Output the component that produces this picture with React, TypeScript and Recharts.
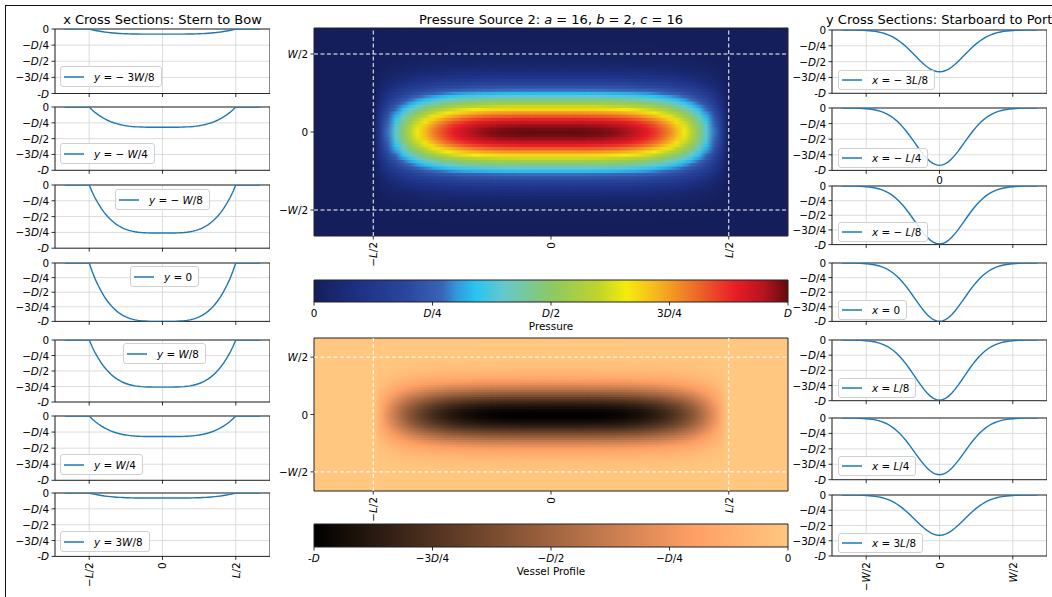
import React from 'react';
import {
  LineChart, Line, XAxis, YAxis, CartesianGrid, ReferenceArea, ReferenceLine,
  ScatterChart, Scatter, ComposedChart,
} from 'recharts';

const FONT = '"DejaVu Sans", Verdana, sans-serif';
const FS = 10.4;

// sample positions (units of L for x, W for y): -2/3 .. 2/3 in steps of 1/48
const gridPos: number[] = Array.from({ length: 65 }, (_, i) => (i - 32) / 48);

// pressure profile along x (stern to bow), read from the y = 0 cross section
const xProfile = [
  0, 0, 0, 0, 0, 0, 0, 0, 0,
  0.15, 0.28, 0.39, 0.49, 0.58, 0.655, 0.72, 0.777, 0.824, 0.864, 0.897, 0.923, 0.944, 0.961, 0.974, 0.983, 0.99, 0.994, 0.997, 0.999, 1, 1, 1,
  1,
  1, 1, 1, 0.999, 0.997, 0.994, 0.99, 0.983, 0.974, 0.961, 0.944, 0.923, 0.897, 0.864, 0.824, 0.777, 0.72, 0.655, 0.58, 0.49, 0.39, 0.28, 0.15,
  0, 0, 0, 0, 0, 0, 0, 0, 0,
];

// pressure profile along y (starboard to port), read from the x = 0 cross section
const yProfile = [
  0, 0, 0.001, 0.001, 0.002, 0.003, 0.005, 0.008, 0.012, 0.018, 0.025, 0.034, 0.047, 0.063, 0.084, 0.11, 0.141,
  0.179, 0.224, 0.275, 0.333, 0.397, 0.466, 0.539, 0.613, 0.688, 0.76, 0.826, 0.885, 0.934, 0.97, 0.992,
  1,
  0.992, 0.97, 0.934, 0.885, 0.826, 0.76, 0.688, 0.613, 0.539, 0.466, 0.397, 0.333, 0.275, 0.224, 0.179,
  0.141, 0.11, 0.084, 0.063, 0.047, 0.034, 0.025, 0.018, 0.012, 0.008, 0.005, 0.003, 0.002, 0.001, 0.001, 0, 0,
];

const xSectionLabels = ['y = − 3W/8', 'y = − W/4', 'y = − W/8', 'y = 0', 'y = W/8', 'y = W/4', 'y = 3W/8'];
const xSectionDepth = [0.08, 0.32, 0.76, 1, 0.76, 0.32, 0.08];
const ySectionLabels = ['x = − 3L/8', 'x = − L/4', 'x = − L/8', 'x = 0', 'x = L/8', 'x = L/4', 'x = 3L/8'];
const ySectionDepth = [0.66, 0.92, 0.99, 1, 0.99, 0.92, 0.66];

const depthTicks = [-1, -0.75, -0.5, -0.25, 0];
const depthTickLabels = ['-D', '−3D/4', '−D/2', '−D/4', '0'];
const halfTicks = [-0.5, 0, 0.5];
const lengthTickLabels = ['−L/2', '0', 'L/2'];
const widthTickLabels = ['−W/2', '0', 'W/2'];
const pressureTicks = [0, 0.25, 0.5, 0.75, 1];
const pressureTickLabels = ['0', 'D/4', 'D/2', '3D/4', 'D'];
const profileTickLabels = ['-D', '−3D/4', '−D/2', '−D/4', '0'];

// layout
const leftPlotTops = [28.5, 106.7, 184.5, 263.3, 340, 415.7, 493.3];
const leftPlotHeights = [64.5, 63.3, 63.2, 58.4, 62, 64.3, 63.4];
const rightPlotTops = [30, 108.3, 185.7, 263.3, 340, 418.3, 495];
const rightPlotHeights = [63.3, 62.4, 58.6, 58.4, 60.7, 61.7, 61];
const leftLegendPos = [[60, 66], [60, 143], [115, 189], [130, 266], [123, 343], [60, 454], [60, 531]];
const rightLegendPos = [[838, 70], [838, 148], [838, 222], [838, 300], [838, 378], [838, 456], [838, 533]];

// colormaps
const jetStops: number[][] = [
  [0.0, 20, 30, 90],
  [0.1, 30, 50, 135],
  [0.2, 42, 72, 158],
  [0.27, 58, 100, 182],
  [0.3, 50, 150, 220],
  [0.34, 40, 196, 240],
  [0.4, 100, 200, 205],
  [0.5, 140, 200, 100],
  [0.6, 192, 212, 42],
  [0.66, 245, 235, 12],
  [0.72, 245, 185, 30],
  [0.8, 238, 112, 40],
  [0.89, 232, 28, 38],
  [0.95, 180, 20, 30],
  [1.0, 100, 10, 15],
];
const rgb = (r: number, g: number, b: number) => `rgb(${Math.round(r)},${Math.round(g)},${Math.round(b)})`;
function jet(t: number) {
  const v = Math.max(0, Math.min(1, t));
  for (let k = 1; k < jetStops.length; k++) {
    const a = jetStops[k - 1], b = jetStops[k];
    if (v <= b[0]) {
      const f = (v - a[0]) / (b[0] - a[0]);
      return rgb(a[1] + (b[1] - a[1]) * f, a[2] + (b[2] - a[2]) * f, a[3] + (b[3] - a[3]) * f);
    }
  }
  const l = jetStops[jetStops.length - 1];
  return rgb(l[1], l[2], l[3]);
}
function copper(t: number) {
  const v = Math.max(0, Math.min(1, t));
  return rgb(255 * Math.min(1, 1.25 * v), 255 * 0.7812 * v, 255 * 0.4975 * v);
}

const isLetter = (p: string) => /^[A-Za-z]$/.test(p);
const splitMath = (s: string) => s.split(/([A-Za-z])/).filter((p) => p !== '');
const svgMath = (s: string) =>
  splitMath(s).map((p, k) => (isLetter(p) ? <tspan key={k} fontStyle="italic">{p}</tspan> : <tspan key={k}>{p}</tspan>));
const htmlMath = (s: string) =>
  splitMath(s).map((p, k) => (isLetter(p) ? <i key={k}>{p}</i> : <span key={k}>{p}</span>));

const findIdx = (ticks: number[], v: number) => ticks.findIndex((t) => Math.abs(t - v) < 1e-6);

const makeYTick = (labels: string[], ticks: number[]) => (props: any) => {
  const { x, y, payload } = props;
  const idx = findIdx(ticks, payload.value);
  return (
    <text x={x} y={y} textAnchor="end" dominantBaseline="central" fontSize={FS} fontFamily={FONT} fill="#000">
      {svgMath(labels[idx] ?? '')}
    </text>
  );
};
const makeRotTick = (labels: string[], ticks: number[]) => (props: any) => {
  const { x, y, payload } = props;
  const idx = findIdx(ticks, payload.value);
  return (
    <text x={x} y={y} transform={`rotate(-90 ${x} ${y})`} textAnchor="end" dominantBaseline="central" fontSize={FS} fontFamily={FONT} fill="#000">
      {svgMath(labels[idx] ?? '')}
    </text>
  );
};
const makeFlatTick = (labels: string[], ticks: number[]) => (props: any) => {
  const { x, y, payload } = props;
  const idx = findIdx(ticks, payload.value);
  return (
    <text x={x} y={y + 5} textAnchor="middle" dominantBaseline="central" fontSize={FS} fontFamily={FONT} fill="#000">
      {svgMath(labels[idx] ?? '')}
    </text>
  );
};
const midZeroTick = (props: any) => {
  const { x, y, payload } = props;
  if (Math.abs(payload.value) > 1e-6) return <g />;
  return (
    <text x={x} y={y + 4} textAnchor="middle" dominantBaseline="central" fontSize={FS} fontFamily={FONT} fill="#000">0</text>
  );
};
const emptyTick = () => <g />;

const XD = 0.7333;

function CrossSection(props: {
  chartLeft: number; plotTop: number; plotH: number; profile: number[]; depth: number;
  last: boolean; tickLabels: string[]; midZero?: boolean;
}) {
  const { chartLeft, plotTop, plotH, profile, depth, last, tickLabels, midZero } = props;
  const data = gridPos.map((p, i) => ({ p, v: -profile[i] * depth }));
  const mTop = 8;
  const xH = last ? 40 : midZero ? 16 : 6;
  const tick = last ? makeRotTick(tickLabels, halfTicks) : midZero ? midZeroTick : emptyTick;
  return (
    <div style={{ position: 'absolute', left: chartLeft, top: plotTop - mTop }}>
      <LineChart width={270} height={mTop + plotH + xH} data={data} margin={{ top: mTop, right: 0, bottom: 0, left: 0 }}>
        <CartesianGrid stroke="#d4d4d4" strokeWidth={0.8} />
        <XAxis type="number" dataKey="p" domain={[-XD, XD]} ticks={halfTicks} interval={0} height={xH}
          tickSize={3.5} tickMargin={2.5} axisLine={false} tickLine={{ stroke: '#000', strokeWidth: 0.8 }} tick={tick} allowDataOverflow />
        <YAxis type="number" domain={[-1, 0]} ticks={depthTicks} interval={0} width={55}
          tickSize={3.5} tickMargin={2.5} axisLine={false} tickLine={{ stroke: '#000', strokeWidth: 0.8 }}
          tick={makeYTick(depthTickLabels, depthTicks)} allowDataOverflow />
        <ReferenceArea x1={-XD} x2={XD} y1={-1} y2={0} fill="none" fillOpacity={0} stroke="#262626" strokeWidth={1} />
        <Line dataKey="v" type="linear" stroke="#1f77b4" strokeWidth={1.4} dot={false} isAnimationActive={false} />
      </LineChart>
    </div>
  );
}

function LegendBox({ left, top, h, label }: { left: number; top: number; h: number; label: string }) {
  return (
    <div style={{
      position: 'absolute', left, top, height: h, boxSizing: 'border-box', border: '1px solid #d0d0d0',
      borderRadius: 3, background: 'rgba(255,255,255,0.85)', display: 'flex', alignItems: 'center',
      paddingLeft: 3, paddingRight: 6, fontFamily: FONT, fontSize: FS, whiteSpace: 'pre', color: '#000',
    }}>
      <svg width={20} height={6} style={{ marginRight: 10, display: 'block' }}>
        <line x1={0} x2={20} y1={3} y2={3} stroke="#1f77b4" strokeWidth={1.5} />
      </svg>
      <span>{htmlMath(label)}</span>
    </div>
  );
}

const HM_PL = 60;
const HM_PW = 474;
const HM_PT = 28;
const HM_DOMAIN: [number, number] = [-2 / 3, 2 / 3];

function Heatmap({ top, plotH, prefix }: { top: number; plotH: number; prefix: string }) {
  const cells: { x: number; y: number; j: number; v: number }[] = [];
  gridPos.forEach((yv, j) => gridPos.forEach((xv, i) => cells.push({ x: xv, y: yv, j, v: xProfile[i] * yProfile[j] })));
  const cw = HM_PW / 64;
  const ch = plotH / 64;
  const shape = (p: any) => {
    const { cx, cy, payload } = p;
    const x0 = Math.max(HM_PL, cx - cw / 2 - 0.4);
    const x1 = Math.min(HM_PL + HM_PW, cx + cw / 2 + 0.4);
    const y0 = Math.max(HM_PT, cy - ch / 2 - 0.4);
    const y1 = Math.min(HM_PT + plotH, cy + ch / 2 + 0.4);
    return <rect x={x0} y={y0} width={x1 - x0} height={y1 - y0} fill={`url(#${prefix}${payload.j})`} />;
  };
  const dash = { stroke: '#ffffff', strokeWidth: 1, strokeDasharray: '4 2.5' };
  const chartH = HM_PT + plotH + 40;
  return (
    <>
      <div style={{ position: 'absolute', left: 254, top: top - HM_PT }}>
        <ScatterChart width={544} height={chartH} margin={{ top: HM_PT, right: 10, bottom: 0, left: 0 }}>
          <XAxis type="number" dataKey="x" domain={HM_DOMAIN} ticks={halfTicks} interval={0} height={40}
            tickSize={3.5} tickMargin={2.5} axisLine={false} tickLine={{ stroke: '#000', strokeWidth: 0.8 }}
            tick={makeRotTick(lengthTickLabels, halfTicks)} allowDataOverflow />
          <YAxis type="number" dataKey="y" domain={HM_DOMAIN} ticks={halfTicks} interval={0} width={60}
            tickSize={3.5} tickMargin={2.5} axisLine={false} tickLine={{ stroke: '#000', strokeWidth: 0.8 }}
            tick={makeYTick(widthTickLabels, halfTicks)} allowDataOverflow />
          <Scatter data={cells} shape={shape} isAnimationActive={false} />
        </ScatterChart>
      </div>
      <div style={{ position: 'absolute', left: 254, top: top - HM_PT }}>
        <ComposedChart width={544} height={chartH} margin={{ top: HM_PT, right: 10, bottom: 0, left: 0 }}
          data={[{ x: HM_DOMAIN[0], y: HM_DOMAIN[0] }, { x: HM_DOMAIN[1], y: HM_DOMAIN[1] }]}>
          <XAxis type="number" dataKey="x" domain={HM_DOMAIN} ticks={halfTicks} interval={0} height={40}
            axisLine={false} tickLine={false} tick={emptyTick} allowDataOverflow />
          <YAxis type="number" dataKey="y" domain={HM_DOMAIN} ticks={halfTicks} interval={0} width={60}
            axisLine={false} tickLine={false} tick={emptyTick} allowDataOverflow />
          <ReferenceLine x={-0.5} {...dash} />
          <ReferenceLine x={0.5} {...dash} />
          <ReferenceLine y={-0.5} {...dash} />
          <ReferenceLine y={0.5} {...dash} />
          <ReferenceArea x1={HM_DOMAIN[0]} x2={HM_DOMAIN[1]} y1={HM_DOMAIN[0]} y2={HM_DOMAIN[1]} fill="none" fillOpacity={0} stroke="#222" strokeWidth={1} />
        </ComposedChart>
      </div>
    </>
  );
}

function ColorBar({ top, plotH, gradId, domain, ticks, labels }: {
  top: number; plotH: number; gradId: string; domain: [number, number]; ticks: number[]; labels: string[];
}) {
  return (
    <div style={{ position: 'absolute', left: 254, top: top - 5 }}>
      <ComposedChart width={544} height={5 + plotH + 24} margin={{ top: 5, right: 10, bottom: 0, left: 60 }}
        data={[{ x: domain[0], y: 0 }, { x: domain[1], y: 1 }]}>
        <XAxis type="number" dataKey="x" domain={domain} ticks={ticks} interval={0} height={24}
          tickSize={3.5} tickMargin={2.5} axisLine={false} tickLine={{ stroke: '#000', strokeWidth: 0.8 }}
          tick={makeFlatTick(labels, ticks)} allowDataOverflow />
        <YAxis type="number" dataKey="y" domain={[0, 1]} hide />
        <ReferenceArea x1={domain[0]} x2={domain[1]} y1={0} y2={1} fill={`url(#${gradId})`} fillOpacity={1} stroke="#222" strokeWidth={1} />
      </ComposedChart>
    </div>
  );
}

function GradientDefs() {
  return (
    <svg width={0} height={0} style={{ position: 'absolute', left: 0, top: 0 }}>
      <defs>
        {gridPos.map((_, j) => (
          <linearGradient key={`p${j}`} id={`pr${j}`} gradientUnits="userSpaceOnUse" x1={HM_PL} x2={HM_PL + HM_PW} y1={0} y2={0}>
            {gridPos.map((__, i) => (
              <stop key={i} offset={i / 64} stopColor={jet(xProfile[i] * yProfile[j])} />
            ))}
          </linearGradient>
        ))}
        {gridPos.map((_, j) => (
          <linearGradient key={`v${j}`} id={`vr${j}`} gradientUnits="userSpaceOnUse" x1={HM_PL} x2={HM_PL + HM_PW} y1={0} y2={0}>
            {gridPos.map((__, i) => (
              <stop key={i} offset={i / 64} stopColor={copper(1 - xProfile[i] * yProfile[j])} />
            ))}
          </linearGradient>
        ))}
        <linearGradient id="jetbar" x1="0" x2="1" y1="0" y2="0">
          {jetStops.map((s, k) => <stop key={k} offset={s[0]} stopColor={rgb(s[1], s[2], s[3])} />)}
        </linearGradient>
        <linearGradient id="copperbar" x1="0" x2="1" y1="0" y2="0">
          <stop offset={0} stopColor={copper(0)} />
          <stop offset={0.8} stopColor={copper(0.8)} />
          <stop offset={1} stopColor={copper(1)} />
        </linearGradient>
      </defs>
    </svg>
  );
}

export default function App() {
  return (
    <div style={{ position: 'absolute', left: 0, top: 0, width: 1052, height: 597, overflow: 'hidden', background: '#fff', fontFamily: FONT, color: '#000' }}>
      <GradientDefs />
      <div style={{ position: 'absolute', left: 5, top: 5, width: 2000, height: 2000, borderLeft: '1.5px solid #111', borderTop: '1.5px solid #111' }} />

      <div style={{ position: 'absolute', left: 0, width: 325, top: 13, textAlign: 'center', fontSize: 13, lineHeight: '13px', whiteSpace: 'nowrap' }}>
        x Cross Sections: Stern to Bow
      </div>
      <div style={{ position: 'absolute', left: 351, width: 400, top: 13, textAlign: 'center', fontSize: 13, lineHeight: '13px', whiteSpace: 'pre' }}>
        Pressure Source 2: <i>a</i> = 16, <i>b</i> = 2, <i>c</i> = 16
      </div>
      <div style={{ position: 'absolute', left: 826, top: 13, fontSize: 13, lineHeight: '13px', whiteSpace: 'nowrap' }}>
        y Cross Sections: Starboard to Port
      </div>

      {xSectionDepth.map((d, k) => (
        <CrossSection key={`l${k}`} chartLeft={0} plotTop={leftPlotTops[k]} plotH={leftPlotHeights[k]}
          profile={xProfile} depth={d} last={k === 6} tickLabels={lengthTickLabels} />
      ))}
      {ySectionDepth.map((d, k) => (
        <CrossSection key={`r${k}`} chartLeft={777} plotTop={rightPlotTops[k]} plotH={rightPlotHeights[k]}
          profile={yProfile} depth={d} last={k === 6} tickLabels={widthTickLabels} midZero={k === 1} />
      ))}

      <Heatmap top={28} plotH={208} prefix="pr" />
      <ColorBar top={280} plotH={22} gradId="jetbar" domain={[0, 1]} ticks={pressureTicks} labels={pressureTickLabels} />
      <div style={{ position: 'absolute', left: 451, width: 200, top: 320, textAlign: 'center', fontSize: FS, lineHeight: '12px' }}>Pressure</div>

      <Heatmap top={338} plotH={153} prefix="vr" />
      <ColorBar top={524} plotH={23} gradId="copperbar" domain={[-1, 0]} ticks={depthTicks} labels={profileTickLabels} />
      <div style={{ position: 'absolute', left: 451, width: 200, top: 565, textAlign: 'center', fontSize: FS, lineHeight: '12px' }}>Vessel Profile</div>

      {xSectionLabels.map((lab, k) => (
        <LegendBox key={`ll${k}`} left={leftLegendPos[k][0]} top={leftLegendPos[k][1]} h={21} label={lab} />
      ))}
      {ySectionLabels.map((lab, k) => (
        <LegendBox key={`rl${k}`} left={rightLegendPos[k][0]} top={rightLegendPos[k][1]} h={20} label={lab} />
      ))}
    </div>
  );
}
